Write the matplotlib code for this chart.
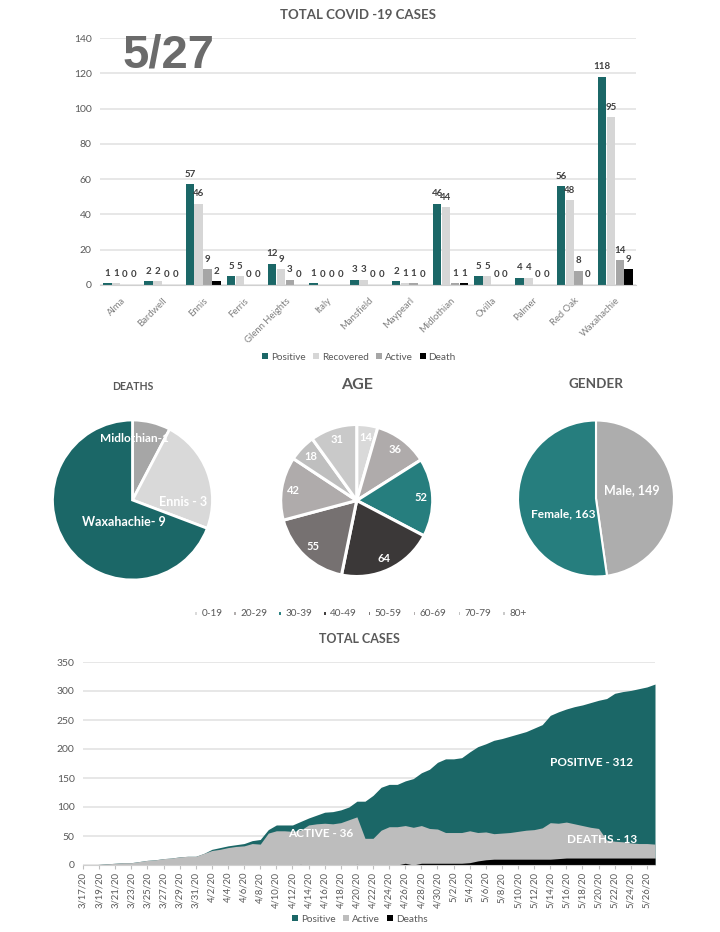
"""COVID-19 county dashboard for 5/27: cases by city, three pies and a running total."""
import datetime as dt

import matplotlib

matplotlib.use("Agg")
import matplotlib.pyplot as plt

W, H = 720, 932
TEAL = "#1B6767"
TEAL_LIGHT = "#267E7E"
TEXT = "#595959"
GRID = "#E3E3E3"

plt.rcParams["font.family"] = ["Lato", "DejaVu Sans"]

cities = ["Alma", "Bardwell", "Ennis", "Ferris", "Glenn Heights", "Italy", "Mansfield",
          "Maypearl", "Midlothian", "Ovilla", "Palmer", "Red Oak", "Waxahachie"]
positive = [1, 2, 57, 5, 12, 1, 3, 2, 46, 5, 4, 56, 118]
recovered = [1, 2, 46, 5, 9, 0, 3, 1, 44, 5, 4, 48, 95]
active = [0, 0, 9, 0, 3, 0, 0, 1, 1, 0, 0, 8, 14]
death = [0, 0, 2, 0, 0, 0, 0, 0, 1, 0, 0, 0, 9]
bar_colors = [TEAL, "#D6D6D6", "#A6A6A6", "#000000"]

death_values = [1, 3, 9]
death_colors = ["#A6A6A6", "#D9D9D9", TEAL]

age_groups = ["0-19", "20-29", "30-39", "40-49", "50-59", "60-69", "70-79", "80+"]
age_values = [14, 36, 52, 64, 55, 42, 18, 31]
age_colors = ["#D9D9D9", "#AFABAB", TEAL_LIGHT, "#3B3838", "#767171", "#AFABAB", "#BFBFBF", "#C9C9C9"]

gender_values = [149, 163]
gender_colors = ["#ADADAD", TEAL_LIGHT]

# daily totals from 3/17/20 through 5/27/20
total_positive = [0, 0, 1, 2, 3, 4, 4, 6, 8, 9, 11, 12, 14, 15, 15, 20, 27, 30, 33, 35,
                  37, 42, 44, 61, 69, 69, 69, 75, 81, 86, 91, 92, 95, 100, 110, 110,
                  120, 134, 139, 139, 145, 149, 159, 165, 177, 183, 183, 185, 195, 204,
                  209, 215, 218, 222, 226, 230, 236, 242, 258, 264, 269, 273, 276, 280,
                  284, 287, 296, 299, 301, 304, 307, 312]
total_active = [0, 0, 1, 2, 3, 4, 4, 6, 8, 9, 11, 12, 14, 15, 15, 20, 25, 27, 30, 32,
                33, 37, 36, 55, 59, 59, 58, 60, 69, 71, 72, 71, 73, 78, 83, 46,
                46, 60, 66, 66, 68, 65, 68, 63, 62, 56, 56, 56, 59, 56,
                57, 54, 55, 56, 58, 60, 61, 64, 73, 72, 74, 71, 68, 65,
                63, 43, 41, 40, 38, 37, 37, 36]
total_deaths = [0, 0, 0, 0, 0, 0, 0, 0, 0, 0, 0, 0, 0, 0, 0, 0, 0, 0, 0, 0,
                0, 0, 0, 0, 0, 0, 0, 1, 0, 0, 0, 0, 0, 0, 1, 0,
                0, 0, 0, 0, 3, 0, 3, 3, 3, 3, 3, 3, 4, 7,
                9, 10, 10, 10, 10, 10, 10, 10, 10, 11, 12, 12, 12, 12,
                12, 12, 12, 12, 12, 12, 12, 12]
first_day = dt.date(2020, 3, 17)
day_labels = [(first_day + dt.timedelta(days=i)).strftime("%-m/%-d/%y") for i in range(len(total_positive))]


def px_axes(fig, left, top, right, bottom):
    return fig.add_axes([left / W, 1 - bottom / H, (right - left) / W, (bottom - top) / H])


def px_text(fig, x, y, text, **kwargs):
    kwargs.setdefault("ha", "center")
    kwargs.setdefault("va", "center")
    return fig.text(x / W, 1 - y / H, text, **kwargs)


def clean_axis(ax):
    for side in ("top", "left", "right"):
        ax.spines[side].set_visible(False)
    ax.spines["bottom"].set_color("#D0D0D0")
    ax.set_axisbelow(True)
    ax.grid(True, axis="y", color=GRID, linewidth=1.2)
    ax.tick_params(axis="y", length=0, colors=TEXT, labelsize=7.5, pad=6)


def draw_pie(fig, cx, cy, r, values, colors, edge, labels=None):
    ax = px_axes(fig, cx - r, cy - r, cx + r, cy + r)
    ax.pie(values, colors=colors, startangle=90, counterclock=False, radius=1,
           labels=labels, labeldistance=0.84,
           textprops=dict(color="white", fontsize=8, fontweight="bold", ha="center", va="center"),
           wedgeprops=dict(edgecolor="white", linewidth=edge))
    ax.set_xlim(-1, 1)
    ax.set_ylim(-1, 1)
    for patch in ax.patches:
        patch.set_clip_on(False)
    return ax


fig = plt.figure(figsize=(W / 100, H / 100), dpi=100, facecolor="white")

# cases by city
ax = px_axes(fig, 100, 38, 636, 285)
clean_axis(ax)
bar_w = 0.215
series = [("Positive", positive), ("Recovered", recovered), ("Active", active), ("Death", death)]
for i, (name, values) in enumerate(series):
    xs = [c + (i - 1.5) * bar_w for c in range(len(cities))]
    bars = ax.bar(xs, values, width=bar_w * 0.95, color=bar_colors[i], label=name)
    ax.bar_label(bars, padding=4, fontsize=7, fontweight="bold", color="#404040")
ax.set_xlim(-0.5, len(cities) - 0.5)
ax.set_ylim(0, 140)
ax.set_yticks(range(0, 141, 20))
ax.set_xticks(range(len(cities)))
ax.set_xticklabels(cities, rotation=45, ha="right", rotation_mode="anchor", fontsize=6.8, color="#808080")
ax.tick_params(axis="x", length=0, pad=8)
fig.legend(*ax.get_legend_handles_labels(), loc="center", bbox_to_anchor=(359 / W, 1 - 357 / H),
           ncol=4, frameon=False, fontsize=7.2, labelcolor=TEXT, handlelength=0.6, handleheight=0.6,
           handletextpad=0.3, columnspacing=0.7)
px_text(fig, 358, 15, "TOTAL COVID -19 CASES", fontsize=9.5, fontweight="bold", color=TEXT)
px_text(fig, 169, 56, "5/27", fontsize=34, fontweight="bold", color="#6B6B6B", family="Liberation Sans")

# deaths pie
draw_pie(fig, 132.5, 500, 80, death_values, death_colors, 2)
px_text(fig, 133, 387, "DEATHS", fontsize=7.6, fontweight="bold", color=TEXT)
px_text(fig, 134, 439, "Midlothian-1", fontsize=8.6, fontweight="bold", color="white")
px_text(fig, 183, 502, "Ennis - 3", fontsize=9, fontweight="bold", color="white")
px_text(fig, 124, 521.5, "Waxahachie- 9", fontsize=9, fontweight="bold", color="white")

# age pie
age_ax = draw_pie(fig, 356.7, 500.5, 76, age_values, age_colors, 2.2, labels=[str(v) for v in age_values])
px_text(fig, 357, 385, "AGE", fontsize=11.5, fontweight="bold", color=TEXT)
fig.legend(age_ax.patches, age_groups, loc="center", bbox_to_anchor=(360 / W, 1 - 614 / H), ncol=8,
           frameon=False, fontsize=7.2, labelcolor=TEXT, handlelength=0.45, handleheight=0.45,
           handletextpad=0.35, columnspacing=1.0)

# gender pie
draw_pie(fig, 596, 498.5, 78, gender_values, gender_colors, 1.5)
px_text(fig, 596, 384, "GENDER", fontsize=9.7, fontweight="bold", color=TEXT)
px_text(fig, 631.5, 490, "Male, 149", fontsize=9, fontweight="bold", color="white")
px_text(fig, 563, 514, "Female, 163", fontsize=8.6, fontweight="bold", color="white")

# running totals, drawn over each other rather than stacked
ax = px_axes(fig, 83, 662, 655, 865)
clean_axis(ax)
days = list(range(len(total_positive)))
ax.fill_between(days, total_positive, color=TEAL, linewidth=0, label="Positive")
ax.fill_between(days, total_active, color="#BDBDBD", linewidth=0, label="Active")
ax.fill_between(days, total_deaths, color="#000000", linewidth=0, label="Deaths")
ax.set_xlim(0, 71)
ax.set_ylim(0, 350)
ax.set_yticks(range(0, 351, 50))
ax.set_xticks(days[::2])
ax.set_xticklabels(day_labels[::2], rotation=90, fontsize=6.8, color=TEXT)
ax.tick_params(axis="x", length=3, color="#C0C0C0", pad=2)
fig.legend(*ax.get_legend_handles_labels(), loc="center", bbox_to_anchor=(360 / W, 1 - 919 / H),
           ncol=3, frameon=False, fontsize=7.2, labelcolor=TEXT, handlelength=0.6, handleheight=0.6,
           handletextpad=0.3, columnspacing=0.7)
px_text(fig, 359, 639, "TOTAL CASES", fontsize=9, fontweight="bold", color=TEXT)
px_text(fig, 321, 833.5, "ACTIVE - 36", fontsize=8.5, fontweight="bold", color="white")
px_text(fig, 591, 762, "POSITIVE - 312", fontsize=8.5, fontweight="bold", color="white")
px_text(fig, 602, 839.5, "DEATHS - 13", fontsize=8.5, fontweight="bold", color="white")

fig.savefig("out.png", dpi=100)
